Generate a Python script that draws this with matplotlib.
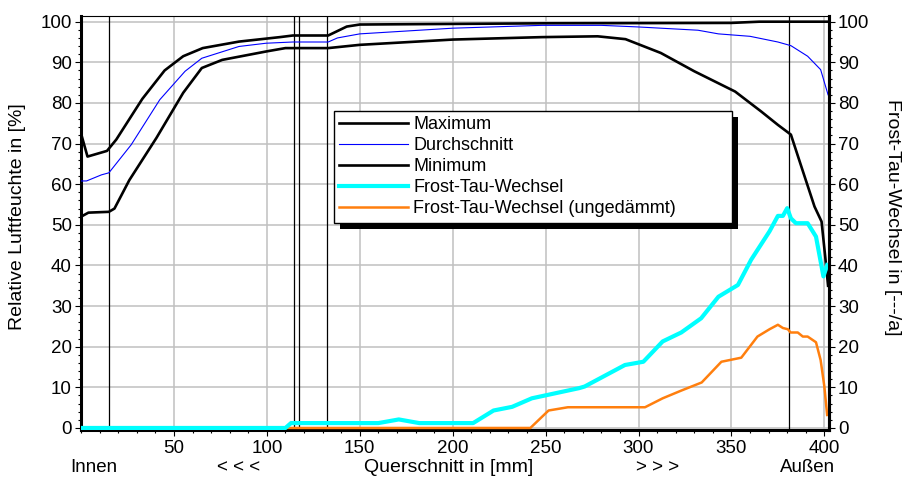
import matplotlib
matplotlib.use("Agg")
import matplotlib.pyplot as plt
from matplotlib.patches import Rectangle
from matplotlib.transforms import IdentityTransform, blended_transform_factory
from matplotlib.ticker import MultipleLocator

plt.rcParams['font.family'] = ['Liberation Sans', 'DejaVu Sans']

# ---- data ----
x_max = [0, 3.5, 14, 19, 26, 33, 45, 55, 65.5, 85, 107, 114, 133, 143, 150, 250, 350, 365, 402]
y_max = [72.5, 66.8, 68.2, 71, 76, 81, 88, 91.5, 93.5, 95.1, 96.2, 96.6, 96.6, 98.8, 99.3, 99.6, 99.7, 100, 100]

x_mean = [0, 3, 11, 15, 27, 42.4, 56, 65, 85, 99.6, 114, 133, 138, 150, 200, 248, 280, 300,
          332, 343, 360, 375, 382, 391, 398, 402]
y_mean = [60.8, 60.8, 62.3, 62.8, 69.7, 80.8, 87.8, 91, 93.9, 94.7, 95, 95, 96, 97, 98.4, 99.1, 99.1, 98.7,
          97.9, 97, 96.4, 95, 94.1, 91.5, 88.2, 82]

x_min = [0, 4, 15, 18, 26, 40.6, 55, 65, 76, 100, 110, 133, 150, 200, 248, 278, 293, 312, 330,
         352, 366, 375, 382, 387, 394.7, 398.5, 400.5, 402]
y_min = [52, 53, 53.2, 54, 61, 71.4, 82.5, 88.6, 90.6, 92.7, 93.5, 93.5, 94.3, 95.6, 96.2, 96.4, 95.7, 92.3, 87.8,
         82.8, 77.9, 74.6, 72.2, 65.2, 54.5, 50.8, 42, 35]

x_ftw = [0, 110, 113, 160, 171, 182, 211, 222, 232, 242.6, 268, 271, 292.7, 302.6, 313, 323, 333.7,
         343, 353.5, 360.6, 370.5, 375, 377.7, 380, 382, 384.7, 391, 395.5, 399.5, 401.5]
y_ftw = [0, 0, 1.2, 1.2, 2.1, 1.2, 1.2, 4.3, 5.2, 7.3, 9.8, 10.2, 15.5, 16.3, 21.3, 23.5, 27,
         32.3, 35.2, 41.4, 48.4, 52.2, 52.2, 54.1, 51.6, 50.4, 50.4, 47.1, 37.3, 40.1]

x_ung = [0, 241.8, 251.6, 262, 303.5, 313, 323, 334, 344.6, 355.3, 364, 370.5, 375, 377.7, 380.4,
         381.8, 385.7, 388.4, 391, 395.5, 398, 400, 401.5]
y_ung = [0, 0, 4.3, 5.1, 5.1, 7.3, 9.2, 11.2, 16.3, 17.3, 22.5, 24.3, 25.4, 24.6, 24.3,
         23.5, 23.5, 22.5, 22.5, 21.1, 16.7, 10.2, 3.2]

layer_bounds = [15, 114.4, 117.3, 132.5, 381]

labels = ["Maximum", "Durchschnitt", "Minimum", "Frost-Tau-Wechsel", "Frost-Tau-Wechsel (ungedämmt)"]
x_ticks = [50, 100, 150, 200, 250, 300, 350, 400]
y_ticks = list(range(0, 101, 10))

FS = 13.5

fig = plt.figure(figsize=(9.02, 4.84), dpi=100)
W, H = 902, 484
ax = fig.add_axes([81 / W, 1 - 430 / H, (829 - 81) / W, (430 - 16) / H])
ax.set_xlim(0, 402.5)
ax.set_ylim(-0.5, 101.4)

ax.grid(True, color='#c0c0c0', lw=1.1, zorder=0)
ax.set_axisbelow(True)

for xb in layer_bounds:
    ax.axvline(xb, color='black', lw=0.9, zorder=3)

l1, = ax.plot(x_max, y_max, color='black', lw=1.9, zorder=4)
l2, = ax.plot(x_mean, y_mean, color='#0000ff', lw=0.8, zorder=4)
l3, = ax.plot(x_min, y_min, color='black', lw=1.9, zorder=4)
l5, = ax.plot(x_ung, y_ung, color='#ff7f0e', lw=1.8, zorder=4)
l4, = ax.plot(x_ftw, y_ftw, color='#00ffff', lw=3.0, zorder=5)

ax.set_xticks(x_ticks)
ax.xaxis.set_minor_locator(MultipleLocator(10))
ax.set_yticks(y_ticks)
ax.yaxis.set_minor_locator(MultipleLocator(2))
ax.tick_params(axis='both', which='major', direction='out', length=4.5, width=0.8, labelsize=FS, pad=2)
ax.tick_params(axis='both', which='minor', direction='out', length=2.5, width=0.8)
ax.tick_params(axis='x', which='major', pad=3)

for s in ['left', 'bottom', 'right']:
    ax.spines[s].set_linewidth(2.2)
ax.spines['top'].set_linewidth(0.8)

ax2 = ax.twinx()
ax2.set_ylim(ax.get_ylim())
ax2.set_yticks(y_ticks)
ax2.yaxis.set_minor_locator(MultipleLocator(2))
ax2.tick_params(axis='y', which='major', direction='out', length=4.5, width=0.8, labelsize=FS, pad=2)
ax2.tick_params(axis='y', which='minor', direction='out', length=2.5, width=0.8)
ax2.spines['right'].set_linewidth(2.2)
for s in ['left', 'bottom', 'top']:
    ax2.spines[s].set_visible(False)

fig.text(18 / W, 1 - 217 / H, "Relative Luftfeuchte in [%]", rotation=90, ha='center', va='center', fontsize=14)
fig.text(893 / W, 1 - 217 / H, "Frost-Tau-Wechsel in [---/a]", rotation=-90, ha='center', va='center', fontsize=14)

tr = blended_transform_factory(ax.transData, fig.transFigure)
yb = 1 - 468 / H
ax.text(7, yb, "Innen", transform=tr, ha='center', va='center', fontsize=FS)
ax.text(85, yb, "< < <", transform=tr, ha='center', va='center', fontsize=FS)
ax.text(198, yb, "Querschnitt in [mm]", transform=tr, ha='center', va='center', fontsize=14)
ax.text(310, yb, "> > >", transform=tr, ha='center', va='center', fontsize=FS)
ax.text(391, yb, "Außen", transform=tr, ha='center', va='center', fontsize=FS)

leg = ax2.legend([l1, l2, l3, l4, l5], labels,
                 bbox_to_anchor=(334 / W, 1 - 223 / H, (732 - 334) / W, (223 - 111) / H),
                 bbox_transform=fig.transFigure, loc='upper left', mode='expand',
                 borderaxespad=0, fancybox=False, framealpha=1, edgecolor='black',
                 fontsize=FS - 0.5, handlelength=3.8, handletextpad=0.3, labelspacing=0.22,
                 borderpad=0.3)
leg.get_frame().set_linewidth(1.0)
leg.set_zorder(10)

fig.canvas.draw()
bb = leg.get_window_extent()
shadow = Rectangle((bb.x0 + 6, bb.y0 - 6), bb.width, bb.height, transform=IdentityTransform(),
                   facecolor='black', edgecolor='none', zorder=9, clip_on=False)
ax2.add_artist(shadow)

fig.savefig("out.png", dpi=100)
